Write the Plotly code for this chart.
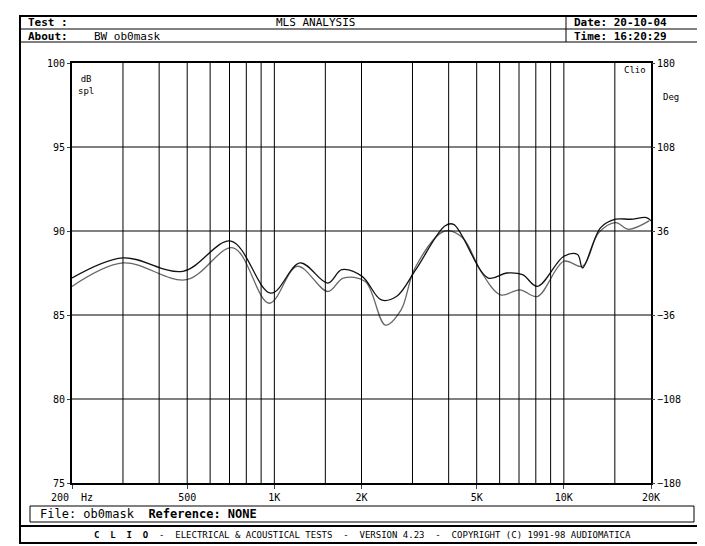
import plotly.graph_objects as go

# curve 1 (darker)
freq_a = [200, 300, 483, 708, 973, 1227, 1530, 1710, 2010, 2340, 2640, 3080, 3880, 4160,
          5480, 6350, 7200, 8100, 10000, 11150, 11600, 13400, 15100, 17000, 19300, 20000]
spl_a = [87.2, 88.4, 87.6, 89.4, 86.3, 88.1, 86.9, 87.7, 87.3, 85.9, 86.1, 87.7, 90.3, 90.4,
         87.2, 87.5, 87.4, 86.7, 88.5, 88.6, 87.8, 90.2, 90.7, 90.7, 90.8, 90.6]
# curve 2 (lighter)
freq_b = [200, 300, 497, 720, 960, 1200, 1530, 1730, 2060, 2420, 2740, 3060, 3880, 4470,
          5170, 6040, 7050, 8100, 10000, 11600, 13200, 15100, 16700, 19700]
spl_b = [86.7, 88.1, 87.1, 89.0, 85.7, 87.9, 86.4, 87.2, 87.0, 84.4, 85.3, 87.8, 90.0, 89.6,
         87.6, 86.2, 86.5, 86.1, 88.2, 87.9, 89.9, 90.5, 90.1, 90.6]

grid_freqs = [300, 400, 500, 600, 700, 800, 900, 1000, 1500, 2000, 3000, 4000, 5000,
              6000, 7000, 8000, 9000, 10000, 15000]
x_ticks = [200, 500, 1000, 2000, 5000, 10000, 20000]
x_labels = ["200  Hz", "500", "1K", "2K", "5K", "10K", "20K"]
y_ticks = [75, 80, 85, 90, 95, 100]
deg_ticks = [-180, -108, -36, 36, 108, 180]

L, R, T, B = 64, 643, 55, 475
FONT = "DejaVu Sans Mono"


def px(x, y):
    return (x - L) / (R - L), (B - y) / (B - T)


fig = go.Figure()
for f, s, c in [(freq_b, spl_b, "#666666"), (freq_a, spl_a, "#111111")]:
    fig.add_trace(go.Scatter(x=f, y=s, mode="lines", line=dict(color=c, width=1.3, shape="spline"),
                             showlegend=False))
fig.add_trace(go.Scatter(x=[200, 20000], y=[0, 0], yaxis="y2", mode="lines",
                         line=dict(width=0), showlegend=False, hoverinfo="skip"))

shapes = []
for g in grid_freqs:
    shapes.append(dict(type="line", xref="x", yref="paper", x0=g, x1=g, y0=0, y1=1,
                       line=dict(color="black", width=1)))
for v in [80, 85, 90, 95]:
    shapes.append(dict(type="line", xref="paper", yref="y", x0=0, x1=1, y0=v, y1=v,
                       line=dict(color="black", width=1)))


def box(x0, y0, x1, y1, w=1):
    a0, b0 = px(x0, y0)
    a1, b1 = px(x1, y1)
    shapes.append(dict(type="rect", xref="paper", yref="paper", x0=a0, y0=b0, x1=a1, y1=b1,
                       line=dict(color="black", width=w)))


def hline(x0, x1, y, w=1):
    a0, b = px(x0, y)
    a1, _ = px(x1, y)
    shapes.append(dict(type="line", xref="paper", yref="paper", x0=a0, x1=a1, y0=b, y1=b,
                       line=dict(color="black", width=w)))


box(12, 8, 696, 535, 2)
hline(12, 696, 21)
hline(12, 696, 34)
a, _ = px(558, 0)
shapes.append(dict(type="line", xref="paper", yref="paper", x0=a, x1=a,
                   y0=px(0, 8)[1], y1=px(0, 34)[1], line=dict(color="black", width=1)))
box(22, 498, 686, 514)
hline(12, 696, 518, 2)

anns = []


def text(x, y, s, anchor="left", size=11):
    a, b = px(x, y)
    anns.append(dict(xref="paper", yref="paper", x=a, y=b, text=s, showarrow=False,
                     xanchor=anchor, yanchor="middle", font=dict(family=FONT, size=size, color="black")))


text(18, 15, "<b>Test :</b>")
text(307, 15, "MLS ANALYSIS", "center")
text(564, 15, "<b>Date: 20-10-04</b>")
text(18, 28, "<b>About:</b>")
text(84, 28, "BW ob0mask")
text(564, 28, "<b>Time: 16:20:29</b>")
text(68, 77, "dB<br>spl", size=9)
text(640, 62, "Clio", "right", size=9)
text(653, 89, "Deg", size=9)
text(30, 506, "File: ob0mask  <b>Reference: NONE</b>", size=12)
text(354, 527, "<b>C  L  I  O</b>  -  ELECTRICAL & ACOUSTICAL TESTS  -  VERSION 4.23  -  COPYRIGHT (C) 1991-98 AUDIOMATICA",
     "center", size=9)

fig.update_layout(
    width=705, height=546,
    margin=dict(l=L, r=705 - R, t=T, b=546 - B),
    paper_bgcolor="white", plot_bgcolor="white",
    xaxis=dict(type="log", range=[2.30103, 4.30103], tickvals=x_ticks, ticktext=x_labels,
               showgrid=False, showline=True, linecolor="black", linewidth=2, mirror=True,
               ticks="outside", ticklen=4, tickfont=dict(family=FONT, size=10, color="black")),
    yaxis=dict(range=[75, 100], tickvals=y_ticks, showgrid=False, zeroline=False,
               showline=True, linecolor="black", linewidth=2, mirror=True,
               ticks="outside", ticklen=3, tickfont=dict(family=FONT, size=10, color="black")),
    yaxis2=dict(range=[-180, 180], tickvals=deg_ticks, overlaying="y", side="right",
                showgrid=False, zeroline=False, ticks="outside", ticklen=3,
                tickfont=dict(family=FONT, size=10, color="black")),
    shapes=shapes, annotations=anns,
)
fig.write_html("out.html")
